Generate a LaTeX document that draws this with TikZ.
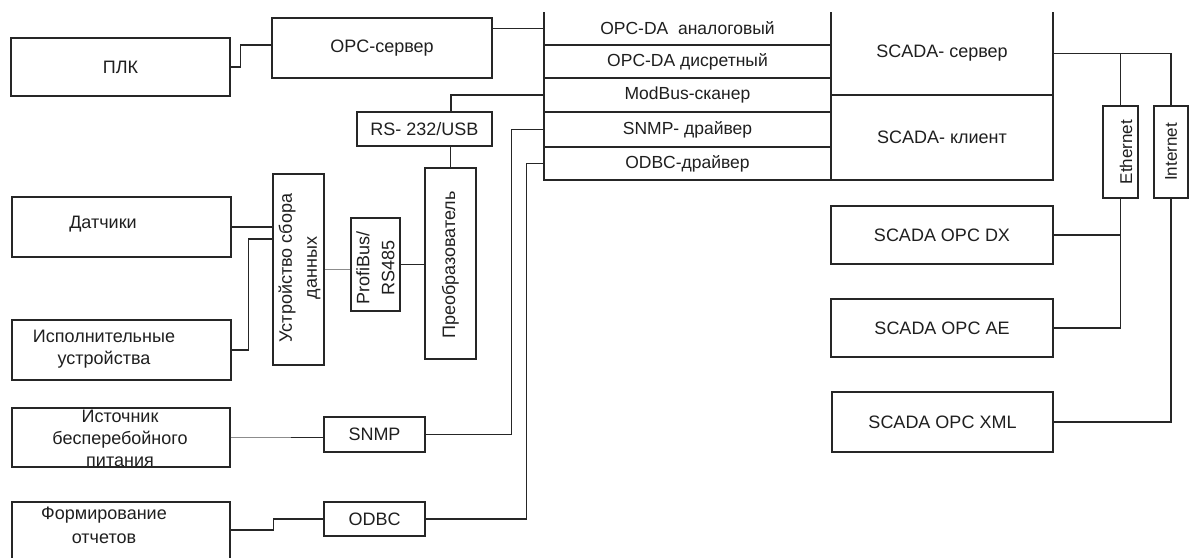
\documentclass[tikz,border=0pt]{standalone}
\usepackage{fontspec}
\setmainfont{Liberation Sans}
\usetikzlibrary{calc}
\begin{document}
\begin{tikzpicture}[x=1pt,y=-1pt,
  every node/.style={text=black!88, font=\fontsize{18}{24}\selectfont},
  box/.style={draw=black!85, line width=1.2pt, rectangle, inner sep=0pt},
  cell/.style={rectangle, inner sep=0pt, font=\fontsize{17.5}{22}\selectfont},
  vtext/.style={rotate=90, align=center, inner sep=0pt, font=\fontsize{18}{25}\selectfont},
  wire/.style={draw=black!85, line width=1.2pt},
  gwire/.style={draw=black!45, line width=1.2pt}]
\useasboundingbox (0,0) rectangle (1191,557);
\fill[white] (0,0) rectangle (1191,557);

% left boxes
\node[box, minimum width=219pt, minimum height=58pt] (plc) at (120.5,67) {ПЛК};
\node[box, minimum width=220pt, minimum height=60pt] (opcs) at (382,48) {OPC-сервер};
\node[box, minimum width=135pt, minimum height=34pt] (rs) at (424.5,129) {RS- 232/USB};
\node[box, minimum width=51pt, minimum height=191pt] (conv) at (450.5,263.5) {};
\node[vtext] (convt) at (450.5,265) {Преобразователь};
\node[box, minimum width=51pt, minimum height=191pt] (daq) at (298.5,269.5) {};
\node[vtext] (daqt) at (299.5,268) {Устройство сбора\\данных};
\node[box, minimum width=49pt, minimum height=93pt] (prof) at (375.5,264.5) {};
\node[vtext] (proft) at (375.5,268) {ProfiBus/\\RS485};
\node[box, minimum width=219pt, minimum height=60pt] (sens) at (121.5,227) {};
\node (senst) at (103,224) {Датчики};
\node[box, minimum width=219pt, minimum height=60pt] (act) at (121.5,350) {};
\node[align=center, font=\fontsize{18}{22}\selectfont] (actt) at (104,349) {Исполнительные\\устройства};
\node[box, minimum width=218pt, minimum height=59pt] (ups) at (121,437.5) {};
\node[align=center, font=\fontsize{18}{22}\selectfont] (upst) at (120,438) {Источник\\бесперебойного\\питания};
\node[box, minimum width=101pt, minimum height=35pt] (snmp) at (374.5,434.5) {SNMP};
\node[box, minimum width=101pt, minimum height=34pt] (odbc) at (374.5,519) {ODBC};
\node[box, minimum width=218pt, minimum height=68pt] (rep) at (121,536) {};
\node[align=center, font=\fontsize{18}{24}\selectfont] (rept) at (104,525) {Формирование\\отчетов};

% table
\node[cell, minimum width=287pt, minimum height=33pt] (r1) at (687.5,28.5) {OPC-DA\ \ аналоговый};
\node[cell, minimum width=287pt, minimum height=33pt] (r2) at (687.5,61.5) {OPC-DA дисретный};
\node[cell, minimum width=287pt, minimum height=34pt] (r3) at (687.5,95) {ModBus-сканер};
\node[cell, minimum width=287pt, minimum height=35pt] (r4) at (687.5,129.5) {SNMP- драйвер};
\node[cell, minimum width=287pt, minimum height=33pt] (r5) at (687.5,163.5) {ODBC-драйвер};
\node[cell, font=\fontsize{18}{22}\selectfont, minimum width=222pt, minimum height=83pt] (srv) at (942,53.5) {SCADA- сервер};
\node[cell, font=\fontsize{18}{22}\selectfont, minimum width=222pt, minimum height=85pt] (cli) at (942,137.5) {SCADA- клиент};
\draw[wire] (544,12) -- (544,180) -- (1053,180) -- (1053,12);
\draw[wire] (831,12) -- (831,180);
\foreach \yy in {45,78,112,147} \draw[wire] (544,\yy) -- (831,\yy);
\draw[wire] (831,95) -- (1053,95);

% right boxes
\node[box, minimum width=222pt, minimum height=58pt] (dx) at (942,235) {SCADA OPC DX};
\node[box, minimum width=222pt, minimum height=58pt] (ae) at (942,328) {SCADA OPC AE};
\node[box, minimum width=221pt, minimum height=60pt] (xml) at (942.5,422) {SCADA OPC XML};
\node[box, minimum width=35pt, minimum height=92pt] (eth) at (1120.5,152) {};
\node[vtext, font=\fontsize{17}{20}\selectfont] (etht) at (1126,152) {Ethernet};
\node[box, minimum width=34pt, minimum height=92pt] (inet) at (1171,152) {};
\node[vtext, font=\fontsize{17}{20}\selectfont] (inett) at (1171,152) {Internet};

% connectors
\draw[wire] (plc.east) -- ++(10,0) |- ([yshift=3pt]opcs.west);
\draw[wire] (r1.west -| opcs.east) -- (r1.west);
\draw[wire] ([xshift=26.5pt]rs.north) |- (r3.west);
\draw[wire] (conv.north) -- (conv.north |- rs.south);
\draw[wire] (snmp.east) -- ++(86,0) |- (r4.west);
\draw[wire] (odbc.east) -- ++(101,0) |- (r5.west);
\draw[wire] (sens.east) -- (sens.east -| daq.west);
\draw[wire] (act.east) -- ++(17,0) |- ([yshift=30.5pt]daq.west);
\draw[gwire] ([yshift=-5pt]prof.west) -- ([yshift=-5pt]prof.west -| daq.east);
\draw[wire] (prof.east) -- (prof.east -| conv.west);
\draw[gwire] (ups.east) -- ++(60,0) coordinate (u1);
\draw[wire] (u1) -- (u1 -| snmp.west);
\draw[wire] ([yshift=6pt]rep.east) -- ++(43,0) |- (odbc.west);
\draw[wire] (srv.east) -| (inet.north);
\draw[wire] (eth.north) -- (eth.north |- srv.east);
\draw[wire] (dx.east) -| (eth.south);
\draw[wire] (ae.east) -| (eth.south);
\draw[wire] (xml.east) -| (inet.south);
\end{tikzpicture}
\end{document}
